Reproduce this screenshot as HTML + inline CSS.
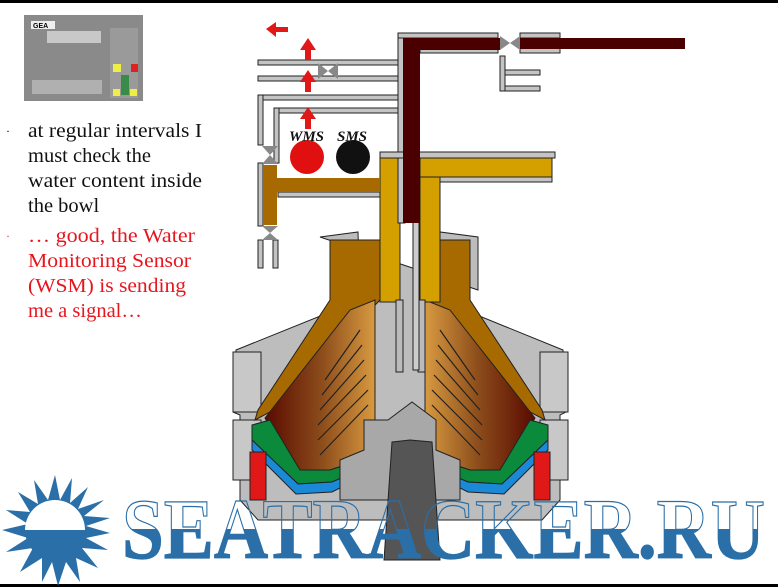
<!DOCTYPE html>
<html><head><style>
html,body{margin:0;padding:0;background:#fff;}
svg{display:block;}
</style></head><body>
<svg width="778" height="587" viewBox="0 0 778 587" xmlns="http://www.w3.org/2000/svg">
<defs>
<linearGradient id="brL" x1="0" x2="1" y1="0" y2="0">
<stop offset="0" stop-color="#5a0a00"/><stop offset="0.5" stop-color="#8a4a1a"/><stop offset="1" stop-color="#d89a40"/></linearGradient>
<linearGradient id="brR" x1="0" x2="1" y1="0" y2="0">
<stop offset="0" stop-color="#d89a40"/><stop offset="0.5" stop-color="#8a4a1a"/><stop offset="1" stop-color="#5a0a00"/></linearGradient>
<linearGradient id="txt" x1="0" x2="0" y1="0" y2="1">
<stop offset="0.5" stop-color="#fff" stop-opacity="0"/><stop offset="0.5" stop-color="#2a6fa8"/></linearGradient>
</defs>
<rect x="0" y="0" width="778" height="3" fill="#000"/>
<rect x="0" y="584" width="778" height="3" fill="#000"/>

<!-- control panel -->
<rect x="24" y="15" width="119" height="86" fill="#8a8a8a"/>
<rect x="31" y="21" width="24" height="8" fill="#eee"/>
<text x="33" y="28" font-family="Liberation Sans" font-size="7" font-weight="bold">GEA</text>
<rect x="47" y="31" width="54" height="12" fill="#c8c8c8"/>
<rect x="110" y="28" width="28" height="70" fill="#9a9a9a"/>
<rect x="113" y="64" width="8" height="8" fill="#ee4"/><rect x="131" y="64" width="7" height="8" fill="#d22"/>
<rect x="113" y="89" width="7" height="7" fill="#ee4"/><rect x="130" y="89" width="7" height="7" fill="#ee4"/>
<rect x="121" y="75" width="8" height="20" fill="#3a8a4a"/>
<rect x="32" y="80" width="70" height="14" fill="#b0b0b0"/>

<!-- text -->
<g font-family="Liberation Serif" font-size="20.5">
<text x="6" y="135" font-size="12">·</text>
<text x="28" y="137" fill="#111" textLength="174" lengthAdjust="spacingAndGlyphs">at regular intervals I</text>
<text x="28" y="162" fill="#111">must check the</text>
<text x="28" y="187" fill="#111" textLength="174" lengthAdjust="spacingAndGlyphs">water content inside</text>
<text x="28" y="212" fill="#111">the bowl</text>
<text x="6" y="240" font-size="12" fill="#e22">·</text>
<text x="28" y="242" fill="#e8141e" textLength="167" lengthAdjust="spacingAndGlyphs">… good, the Water</text>
<text x="28" y="267" fill="#e8141e" textLength="163" lengthAdjust="spacingAndGlyphs">Monitoring Sensor</text>
<text x="28" y="292" fill="#e8141e" textLength="158" lengthAdjust="spacingAndGlyphs">(WSM) is sending</text>
<text x="28" y="317" fill="#e8141e">me a signal…</text>
</g>

<!-- centrifuge -->
<g stroke="#222" stroke-width="1">
<polygon points="320,237 358,232 360,300 236,350 233,412 240,415 240,500 258,520 542,520 560,500 560,415 566,412 563,350 440,300 440,232 478,237 478,290" fill="#bdbdbd"/>
<rect x="233" y="352" width="28" height="60" fill="#c8c8c8"/>
<rect x="540" y="352" width="28" height="60" fill="#c8c8c8"/>
<rect x="233" y="420" width="28" height="60" fill="#c8c8c8"/>
<rect x="540" y="420" width="28" height="60" fill="#c8c8c8"/>
<polygon points="330,240 380,240 380,300 270,412 255,420 258,410 330,300" fill="#a66a00"/>
<polygon points="470,240 420,240 420,300 530,412 545,420 542,410 470,300" fill="#a66a00"/>
<polygon points="265,418 350,310 375,300 375,455 300,480" fill="url(#brL)"/>
<polygon points="535,418 450,310 425,300 425,455 500,480" fill="url(#brR)"/>
<polygon points="252,425 270,420 300,470 330,470 355,462 360,470 332,482 298,484 252,440" fill="#0a8a3a"/>
<polygon points="548,425 530,420 500,470 470,470 445,462 440,470 468,482 502,484 548,440" fill="#0a8a3a"/>
<polygon points="252,440 298,484 332,482 360,470 360,478 332,492 296,494 252,450" fill="#1a8ad8"/>
<polygon points="548,440 502,484 468,482 440,470 440,478 468,492 504,494 548,450" fill="#1a8ad8"/>
<rect x="250" y="452" width="16" height="48" fill="#e01818"/>
<rect x="534" y="452" width="16" height="48" fill="#e01818"/>
<rect x="380" y="157" width="20" height="145" fill="#d4a000"/>
<rect x="420" y="157" width="132" height="20" fill="#d4a000"/>
<rect x="420" y="177" width="20" height="125" fill="#d4a000"/>
<polygon points="388,420 412,402 436,420 436,450 460,460 460,500 340,500 340,460 364,450 364,420" fill="#a8a8a8"/>
<polygon points="392,442 410,440 432,442 440,560 384,560" fill="#555"/>
<rect x="396" y="300" width="7" height="72" fill="#bbb"/>
<rect x="418" y="300" width="7" height="72" fill="#bbb"/>
<rect x="413" y="50" width="6" height="320" fill="#ccc"/>
</g>
<g stroke="#222" stroke-width="1.2">
<line x1="325" y1="380" x2="360" y2="330"/><line x1="322" y1="395" x2="362" y2="345"/><line x1="320" y1="410" x2="364" y2="360"/><line x1="318" y1="425" x2="366" y2="375"/><line x1="318" y1="440" x2="368" y2="390"/><line x1="320" y1="455" x2="368" y2="405"/>
<line x1="475" y1="380" x2="440" y2="330"/><line x1="478" y1="395" x2="438" y2="345"/><line x1="480" y1="410" x2="436" y2="360"/><line x1="482" y1="425" x2="434" y2="375"/><line x1="482" y1="440" x2="432" y2="390"/><line x1="480" y1="455" x2="432" y2="405"/>
</g>

<g fill="#c4c4c4" stroke="#222" stroke-width="1">
<rect x="258" y="60" width="140" height="5"/><rect x="258" y="76" width="140" height="5"/>
<rect x="258" y="95" width="142" height="5"/><rect x="258" y="95" width="5" height="50"/>
<rect x="274" y="108" width="130" height="5"/><rect x="274" y="108" width="5" height="55"/>
<rect x="398" y="33" width="7" height="190"/>
<rect x="398" y="33" width="100" height="5"/><rect x="420" y="48" width="78" height="5"/>
<rect x="520" y="33" width="40" height="5"/><rect x="520" y="48" width="40" height="5"/>
<rect x="500" y="56" width="5" height="35"/><rect x="505" y="70" width="35" height="5"/><rect x="505" y="86" width="35" height="5"/>
<rect x="258" y="163" width="5" height="63"/><rect x="258" y="240" width="5" height="28"/><rect x="273" y="240" width="5" height="28"/>
<rect x="278" y="192" width="102" height="5"/>
<rect x="380" y="152" width="175" height="6"/>
<rect x="440" y="177" width="112" height="5"/>
</g>
<rect x="403" y="38" width="97" height="12" fill="#4a0000"/>
<rect x="403" y="38" width="17" height="185" fill="#4a0000"/>
<rect x="520" y="38" width="165" height="11" fill="#4a0000"/>
<rect x="263" y="165" width="14" height="60" fill="#a66a00"/>
<rect x="263" y="178" width="117" height="14" fill="#a66a00"/>
<g fill="#888">
<polygon points="500,36 510,43 500,50"/><polygon points="520,36 510,43 520,50"/>
<polygon points="318,63 328,71 318,79"/><polygon points="338,63 328,71 338,79"/>
<polygon points="262,146 270,155 278,146"/><polygon points="262,164 270,155 278,164"/>
<polygon points="262,226 270,233 278,226"/><polygon points="262,240 270,233 278,240"/>
</g>
<g fill="#e01818">
<polygon points="266,29 276,22 276,27 288,27 288,32 276,32 276,37"/>
<polygon points="308,38 300,50 305,50 305,60 311,60 311,50 316,50"/>
<polygon points="308,70 300,82 305,82 305,92 311,92 311,82 316,82"/>
<polygon points="308,107 300,119 305,119 305,129 311,129 311,119 316,119"/>
</g>
<circle cx="307" cy="157" r="17" fill="#e01010"/>
<circle cx="353" cy="157" r="17" fill="#111"/>
<g font-family="Liberation Serif" font-size="15" font-style="italic" font-weight="bold" fill="#111">
<text x="289" y="141">WMS</text><text x="337" y="141">SMS</text>
</g>

<g fill="#2a6fa8">
<polygon points="55,475 60,500 72,478 70,503 88,487 78,509 104,500 84,516 110,518 86,526 110,533 86,538 108,550 82,548 98,568 76,558 80,582 66,562 58,586 52,562 42,582 42,558 20,572 33,548 6,552 28,538 2,530 28,524 6,510 30,512 18,492 38,504 34,480 48,500"/>
</g>
<path d="M25,530 A30,30 0 0 1 85,530 Z" fill="#fff"/>
<path d="M25,530 A30,30 0 0 0 85,530 Z" fill="#2a6fa8"/>
<text x="122" y="558" font-family="Liberation Serif" font-weight="bold" font-size="86" textLength="643" lengthAdjust="spacingAndGlyphs" fill="url(#txt)" stroke="#2a6fa8" stroke-width="1.2">SEATRACKER.RU</text>
</svg>
</body></html>
